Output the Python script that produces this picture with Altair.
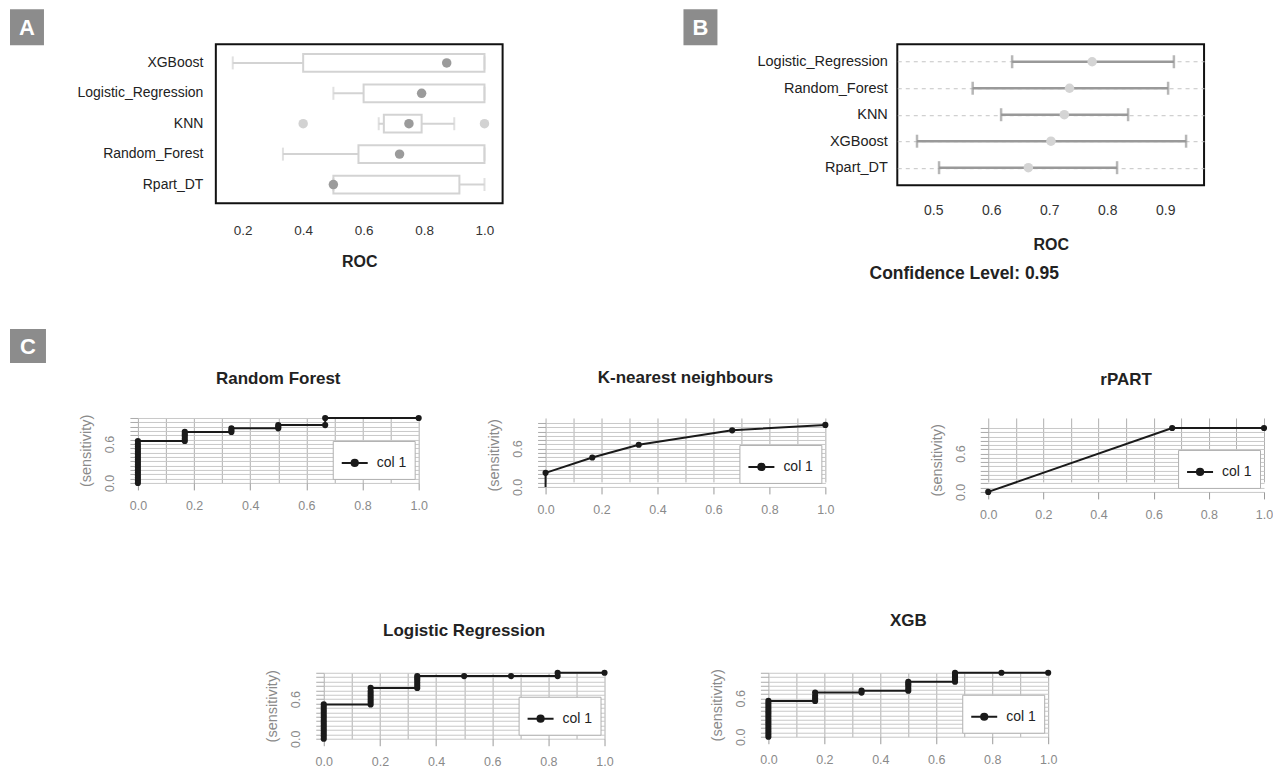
import altair as alt
import pandas as pd

FONT = "Liberation Sans"

# ---------------- Panel A: boxplot of resampled ROC ----------------
models_a = ["XGBoost", "Logistic_Regression", "KNN", "Random_Forest", "Rpart_DT"]
a_min = [0.167, 0.5, 0.65, 0.333, 0.5]
a_q1 = [0.4, 0.6, 0.667, 0.583, 0.5]
a_med = [0.875, 0.792, 0.75, 0.719, 0.5]
a_q3 = [1.0, 1.0, 0.792, 1.0, 0.917]
a_max = [1.0, 1.0, 0.9, 1.0, 1.0]
a_out_model = ["KNN", "KNN"]
a_out_val = [0.4, 1.0]
a_ticks = [0.2, 0.4, 0.6, 0.8, 1.0]

# ---------------- Panel B: confidence intervals ----------------
models_b = ["Logistic_Regression", "Random_Forest", "KNN", "XGBoost", "Rpart_DT"]
b_est = [0.774, 0.735, 0.726, 0.703, 0.664]
b_lo = [0.636, 0.568, 0.617, 0.472, 0.51]
b_hi = [0.915, 0.905, 0.836, 0.936, 0.817]
b_ticks = [0.5, 0.6, 0.7, 0.8, 0.9]

# ---------------- Panel C: ROC curves ----------------
rf_fpr = [0, 0, 0, 0, 0, 0, 0, 0, 0, 0, 0, 0, 0, 0, 0, 0, 0,
          0.167, 0.167, 0.167, 0.167, 0.167,
          0.333, 0.333, 0.333,
          0.5, 0.5, 0.5,
          0.667, 0.667,
          1.0]
rf_tpr = [0.0, 0.04, 0.08, 0.12, 0.16, 0.2, 0.24, 0.28, 0.32, 0.36, 0.4, 0.44, 0.48, 0.52, 0.56, 0.6, 0.645,
          0.645, 0.68, 0.72, 0.75, 0.785,
          0.785, 0.81, 0.84,
          0.84, 0.865, 0.89,
          0.89, 1.0,
          1.0]

knn_fpr = [0, 0, 0.167, 0.333, 0.667, 1.0]
knn_tpr = [0.0, 0.22, 0.46, 0.66, 0.885, 0.97]
knn_dot = [False, True, True, True, True, True]

rp_fpr = [0, 0.667, 1.0]
rp_tpr = [0.0, 1.0, 1.0]

lr_fpr = [0, 0, 0, 0, 0, 0, 0, 0, 0, 0, 0, 0, 0, 0,
          0.167, 0.167, 0.167, 0.167, 0.167, 0.167, 0.167,
          0.333, 0.333, 0.333, 0.333, 0.333, 0.333,
          0.5, 0.667,
          0.833, 0.833,
          1.0]
lr_tpr = [0.0, 0.04, 0.08, 0.12, 0.16, 0.2, 0.24, 0.28, 0.32, 0.36, 0.4, 0.44, 0.48, 0.52,
          0.52, 0.56, 0.6, 0.64, 0.68, 0.72, 0.77,
          0.77, 0.81, 0.85, 0.89, 0.92, 0.95,
          0.95, 0.95,
          0.95, 1.0,
          1.0]

xgb_fpr = [0, 0, 0, 0, 0, 0, 0, 0, 0, 0, 0, 0, 0, 0, 0,
           0.167, 0.167, 0.167, 0.167,
           0.333, 0.333,
           0.5, 0.5, 0.5, 0.5, 0.5,
           0.667, 0.667, 0.667, 0.667, 0.667,
           0.833, 1.0]
xgb_tpr = [0.0, 0.04, 0.08, 0.12, 0.16, 0.2, 0.24, 0.28, 0.32, 0.36, 0.4, 0.44, 0.48, 0.52, 0.56,
           0.56, 0.6, 0.64, 0.69,
           0.69, 0.72,
           0.72, 0.76, 0.8, 0.83, 0.86,
           0.86, 0.9, 0.94, 0.97, 1.0,
           1.0, 1.0]

roc_x_values = [0.0, 0.1, 0.2, 0.3, 0.4, 0.5, 0.6, 0.7, 0.8, 0.9, 1.0]
roc_y_values = [round(i / 15, 5) for i in range(16)]

LG = "#d3d3d3"
DARK = "#222222"
GREY_TXT = "#8a8a8a"


def spacer(w, h, extra=()):
    pt = alt.Chart(pd.DataFrame({"s": [0]})).mark_point(opacity=0).encode(
        x=alt.X("s:Q", axis=None), y=alt.Y("s:Q", axis=None))
    if extra:
        return alt.layer(pt, *extra).properties(width=w, height=h)
    return pt.properties(width=w, height=h)


def hcat(*charts):
    return alt.hconcat(*charts, spacing=0, bounds="flush").resolve_scale(color="independent")


def vcat(*charts):
    return alt.vconcat(*charts, spacing=0, bounds="flush").resolve_scale(color="independent")


def panel_label(letter, x0, y0, w=34, h=36):
    d = alt.Chart(pd.DataFrame({"t": [letter]}))
    r = d.mark_rect(color="#8c8c8c").encode(
        x=alt.value(x0), x2=alt.value(x0 + w), y=alt.value(y0), y2=alt.value(y0 + h)
    )
    t = d.mark_text(color="white", font=FONT, fontSize=22, fontWeight="bold",
                    align="center", baseline="middle").encode(
        x=alt.value(x0 + w / 2), y=alt.value(y0 + h / 2 + 1), text="t:N"
    )
    return [r, t]


# ---------------- build A ----------------
a_df = pd.DataFrame({"model": models_a, "lo": a_min, "q1": a_q1, "med": a_med, "q3": a_q3, "hi": a_max})
out_df = pd.DataFrame({"model": a_out_model, "val": a_out_val})

xs_a = alt.Scale(domain=[0.111, 1.06], nice=False, zero=False)
xax_a = alt.Axis(values=a_ticks, format=".1f", title="ROC", grid=False, ticks=False, domain=False,
                 labelFlush=False, labelFont=FONT, labelFontSize=13.5, labelColor="#333333", labelPadding=20,
                 titleFont=FONT, titleFontSize=16, titleFontWeight="bold", titleColor=DARK, titlePadding=17)
y_a = alt.Y("model:N", sort=models_a, scale=alt.Scale(paddingInner=0.415, paddingOuter=0.32),
            axis=alt.Axis(title=None, ticks=False, domain=False, labelPadding=13, labelFont=FONT,
                          labelFontSize=14, labelColor=DARK))
ba = alt.Chart(a_df)
whisk = ba.mark_rule(color=LG, strokeWidth=2).encode(x=alt.X("lo:Q", scale=xs_a, axis=xax_a), x2="hi:Q", y=y_a)
box = ba.mark_bar(fill="white", stroke=LG, strokeWidth=2).encode(x=alt.X("q1:Q", scale=xs_a, axis=xax_a), x2="q3:Q", y=y_a)
cap_lo = ba.mark_tick(color=LG, thickness=2, size=13).encode(x=alt.X("lo:Q", scale=xs_a, axis=xax_a), y=y_a)
cap_hi = ba.mark_tick(color=LG, thickness=2, size=13).encode(x=alt.X("hi:Q", scale=xs_a, axis=xax_a), y=y_a)
med = ba.mark_circle(size=90, color="#9b9b9b", opacity=1).encode(x=alt.X("med:Q", scale=xs_a, axis=xax_a), y=y_a)
outl = alt.Chart(out_df).mark_circle(size=90, color="#d2d2d2", opacity=1).encode(
    x=alt.X("val:Q", scale=xs_a, axis=xax_a), y=y_a)
chart_a = alt.layer(whisk, box, cap_lo, cap_hi, med, outl, *panel_label("A", -206, -35)).properties(
    width=287, height=159, view=alt.ViewBackground(stroke="#111111", strokeWidth=2))

# ---------------- build B ----------------
b_df = pd.DataFrame({"model": models_b, "est": b_est, "lo": b_lo, "hi": b_hi})
xs_b = alt.Scale(domain=[0.438, 0.967], nice=False, zero=False)
xax_b = alt.Axis(values=b_ticks, format=".1f", title="ROC", grid=False, ticks=False, domain=False,
                 labelFlush=False, labelFont=FONT, labelFontSize=14, labelColor="#333333", labelPadding=18,
                 titleFont=FONT, titleFontSize=16, titleFontWeight="bold", titleColor=DARK, titlePadding=19)
y_b = alt.Y("model:N", sort=models_b, scale=alt.Scale(type="point", padding=0.66),
            axis=alt.Axis(title=None, ticks=False, domain=False, grid=True, gridDash=[4, 4],
                          gridColor="#c4c4c4", labelPadding=10, labelFont=FONT, labelFontSize=14.5,
                          labelColor=DARK))
bb = alt.Chart(b_df)
err = bb.mark_rule(color="#999999", strokeWidth=2.5).encode(x=alt.X("lo:Q", scale=xs_b, axis=xax_b), x2="hi:Q", y=y_b)
bcap_lo = bb.mark_tick(color="#999999", thickness=2.5, size=13).encode(x=alt.X("lo:Q", scale=xs_b, axis=xax_b), y=y_b)
bcap_hi = bb.mark_tick(color="#999999", thickness=2.5, size=13).encode(x=alt.X("hi:Q", scale=xs_b, axis=xax_b), y=y_b)
best = bb.mark_circle(size=90, color="#d4d4d4", opacity=1).encode(x=alt.X("est:Q", scale=xs_b, axis=xax_b), y=y_b)
conf = alt.Chart(pd.DataFrame({"t": ["Confidence Level: 0.95"]})).mark_text(
    font=FONT, fontSize=17.5, fontWeight="bold", color=DARK, align="center", baseline="middle").encode(
    x=alt.value(67), y=alt.value(230), text="t:N")
chart_b = alt.layer(err, bcap_lo, bcap_hi, best, conf, *panel_label("B", -214, -35)).properties(
    width=307, height=141, view=alt.ViewBackground(stroke="#111111", strokeWidth=2))

# ---------------- build ROC panels ----------------
SYM = "M-1,0H1M-0.24,0A0.24,0.24,0,1,0,0.24,0A0.24,0.24,0,1,0,-0.24,0Z"


def roc(fpr, tpr, title, toff, w, h, top=0, dot=None):
    n = len(fpr)
    df = pd.DataFrame({"fpr": fpr, "tpr": tpr, "dot": dot if dot is not None else [True] * n,
                       "ord": list(range(n)), "series": ["col 1"] * n})
    xs = alt.Scale(domain=[0, 1], nice=False, zero=False)
    ys = alt.Scale(domain=[0, 1], nice=False, zero=False, range=[h + top, top])
    xax = alt.Axis(values=roc_x_values, grid=True, gridColor="#b0b0b0", domain=False, tickSize=7,
                   tickColor="#9a9a9a",
                   tickOpacity={"condition": {"test": "round(datum.value*10) % 2 == 0", "value": 1}, "value": 0},
                   labelExpr="round(datum.value*10) % 2 == 0 ? format(datum.value, '.1f') : ''",
                   labelOverlap=False, labelFlush=False, labelFont=FONT, labelFontSize=12.5,
                   labelColor=GREY_TXT, labelPadding=10, title=None)
    yax = alt.Axis(values=roc_y_values, grid=True, gridColor="#c8c8c8", domain=False, tickSize=8,
                   tickColor="#aaaaaa",
                   labelExpr="abs(datum.value) < 0.001 ? '0.0' : (abs(datum.value - 0.6) < 0.001 ? '0.6' : '')",
                   labelAngle=270, labelAlign="center", labelBaseline="bottom", labelPadding=13,
                   labelOverlap=False, labelFlush=False, labelFont=FONT, labelFontSize=12.5,
                   labelColor=GREY_TXT, title="(sensitivity)", titleFont=FONT, titleFontSize=14.5,
                   titleFontWeight="normal", titleColor=GREY_TXT, titlePadding=10)
    leg = alt.Legend(title=None, orient="bottom-right", offset=4, padding=8, fillColor="white",
                     strokeColor="#b0b0b0", labelFont=FONT, labelFontSize=14, labelColor=DARK,
                     symbolType=SYM, symbolSize=676, symbolStrokeWidth=2, symbolStrokeColor="#1a1a1a",
                     symbolFillColor="#1a1a1a", labelOffset=8)
    col = alt.Color("series:N", scale=alt.Scale(domain=["col 1"], range=["#1a1a1a"]), legend=leg)
    base = alt.Chart(df)
    line = base.mark_line(strokeWidth=2).encode(
        x=alt.X("fpr:Q", scale=xs, axis=xax), y=alt.Y("tpr:Q", scale=ys, axis=yax),
        order="ord:Q", color=col)
    dots = base.transform_filter("datum.dot").mark_circle(size=38, opacity=1).encode(
        x=alt.X("fpr:Q", scale=xs, axis=xax), y=alt.Y("tpr:Q", scale=ys, axis=yax), color=col)
    return alt.layer(line, dots).properties(
        width=w, height=h + top,
        title=alt.TitleParams(text=title, font=FONT, fontSize=17, fontWeight="bold", color=DARK,
                              offset=toff, frame="group"))


rf = roc(rf_fpr, rf_tpr, "Random Forest", 26, 281, 65)
knn = roc(knn_fpr, knn_tpr, "K-nearest neighbours", 31, 280, 64, top=5, dot=knn_dot)
rp = roc(rp_fpr, rp_tpr, "rPART", 29, 276, 64, top=10)
lr = roc(lr_fpr, lr_tpr, "Logistic Regression", 29, 281, 66)
xgb = roc(xgb_fpr, xgb_tpr, "XGB", 39, 280, 64)

row1 = hcat(spacer(78, 1), chart_a, spacer(395, 1), chart_b)
row2 = hcat(rf, spacer(127, 1, extra=panel_label("C", -409, -89, 36, 34)), knn, spacer(163, 1), rp)
row3 = hcat(spacer(186, 1), lr, spacer(164, 1), xgb)

chart = vcat(row1, spacer(1, 374), row2, spacer(1, 255), row3).configure_view(stroke=None).properties(
    padding={"left": 1, "top": 0, "right": 0, "bottom": 5}, background="white")

chart.save("out.html", embed_options={"renderer": "svg", "actions": False})
